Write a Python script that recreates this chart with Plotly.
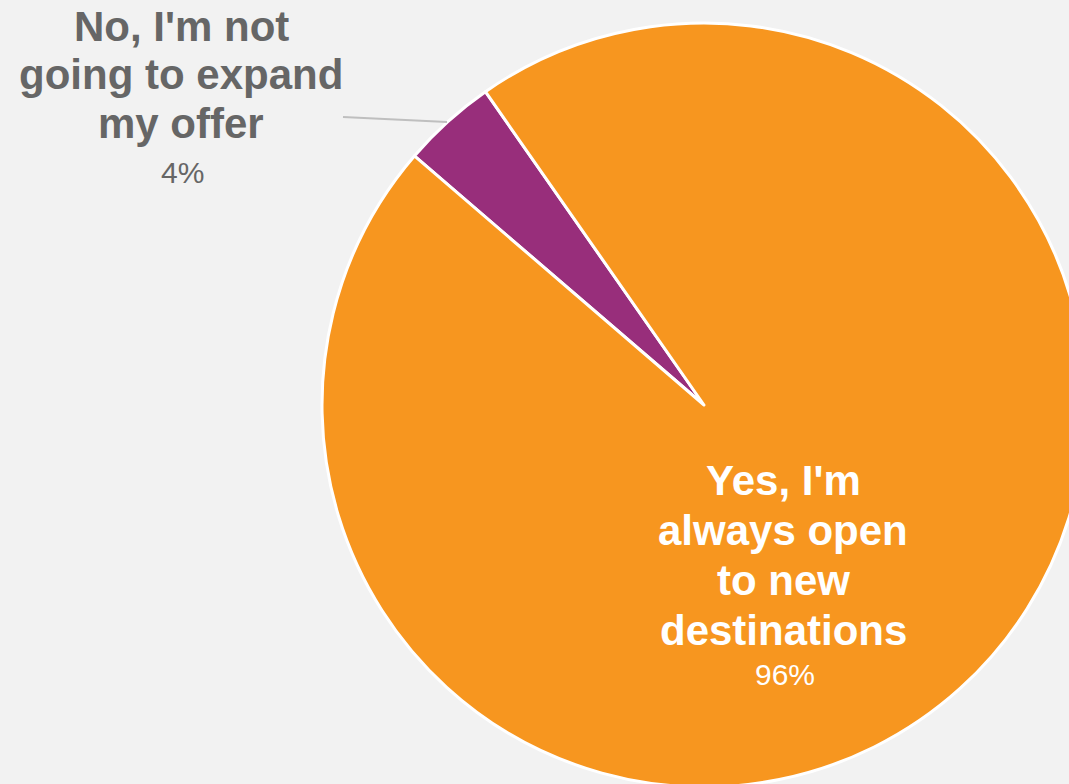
import plotly.graph_objects as go

# Survey answers and their shares (%)
labels = ["No, I'm not going to expand my offer", "Yes, I'm always open to new destinations"]
values = [4, 96]
colors = ["#982E7B", "#F7961F"]

# Label text, split into the lines that are drawn
no_lines = ["No, I'm not", "going to expand", "my offer"]
yes_lines = ["Yes, I'm", "always open", "to new", "destinations"]

W, H = 1100, 810


def px(x):
    return x / W


def py(y):
    return 1 - y / H


# pie centre and radius in pixels
cx, cy, r = 704, 405, 382

fig = go.Figure(
    go.Pie(
        labels=labels,
        values=values,
        sort=False,
        direction="clockwise",
        rotation=-49.3,
        marker=dict(colors=colors, line=dict(color="white", width=3)),
        textinfo="none",
        hoverinfo="label+percent",
        showlegend=False,
        domain=dict(x=[px(cx - r), px(cx + r)], y=[py(cy + r), py(cy - r)]),
    )
)

ann = []
bold_size, pct_size = 42, 30
grey = "#666666"
font_family = "Liberation Sans, Arial, sans-serif"

# "No" label, outside the pie with a leader line
for i, line in enumerate(no_lines):
    baseline = 41 + 48.5 * i
    ann.append(dict(x=px(181), y=py(baseline - 0.3465 * bold_size), text=f"<b>{line}</b>",
                    font=dict(size=bold_size, color=grey, family=font_family)))
ann.append(dict(x=px(182), y=py(183 - 0.3465 * pct_size), text=f"{values[0]}%",
                font=dict(size=pct_size, color=grey, family=font_family)))

# "Yes" label, inside the large slice
for i, line in enumerate(yes_lines):
    baseline = 495 + 50 * i
    ann.append(dict(x=px(783), y=py(baseline - 0.3465 * bold_size), text=f"<b>{line}</b>",
                    font=dict(size=bold_size, color="white", family=font_family)))
ann.append(dict(x=px(785), y=py(685 - 0.3465 * pct_size), text=f"{values[1]}%",
                font=dict(size=pct_size, color="white", family=font_family)))

for a in ann:
    a.update(xref="paper", yref="paper", showarrow=False, xanchor="center", yanchor="middle")

fig.update_layout(
    width=W,
    height=H,
    margin=dict(l=0, r=0, t=0, b=0),
    paper_bgcolor="#F2F2F2",
    plot_bgcolor="#F2F2F2",
    annotations=ann,
    shapes=[dict(type="line", xref="paper", yref="paper",
                 x0=px(343), y0=py(117), x1=px(447), y1=py(122),
                 line=dict(color="#BFBFBF", width=2))],
)

fig.write_html(
    "out.html",
    config={"displayModeBar": False},
    post_script="document.documentElement.style.overflow='hidden';"
                "document.body.style.overflow='hidden';document.body.style.margin='0';",
)
